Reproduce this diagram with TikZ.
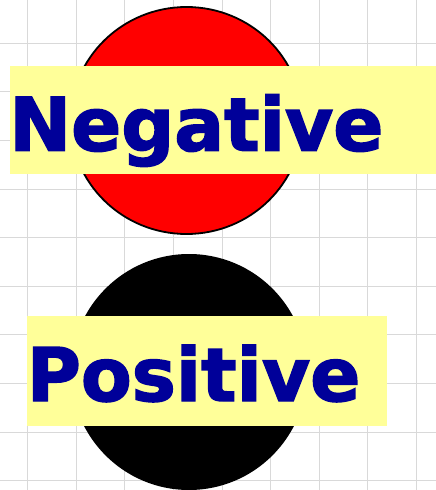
\documentclass[tikz,border=0pt]{standalone}
\usetikzlibrary{shapes.geometric}
\usepackage{fontspec}
\newfontfamily\labelfont{DejaVu Sans}[BoldFeatures={FakeBold=2}]
\definecolor{gridgray}{HTML}{D9D9D9}
\definecolor{boxyellow}{HTML}{FFFF99}
\definecolor{labelblue}{HTML}{000099}
\tikzset{
  gridline/.style={draw=gridgray, line width=1pt},
  labelbox/.style={fill=boxyellow, draw=none, inner sep=0pt, rectangle},
  labeltext/.style={anchor=base west, inner sep=0pt, text=labelblue, font=\labelfont\bfseries\fontsize{74}{80}\selectfont}
}
\begin{document}
\begin{tikzpicture}[x=1pt,y=-1pt]
\useasboundingbox (0,0) rectangle (436,490);
\fill[white] (0,0) rectangle (436,490);
\begin{scope}
\clip (0,0) rectangle (436,490);
\foreach \gx in {27.7,76.3,124.9,173.5,222.1,270.7,319.3,367.9,416.5}
  \draw[gridline] (\gx,0) -- (\gx,490);
\foreach \gy in {43.3,91.9,140.5,189.1,237.7,286.3,334.9,383.5,432.1,480.7}
  \draw[gridline] (0,\gy) -- (436,\gy);
\node[ellipse, fill=red, draw=black, line width=1.8pt, minimum width=232pt, minimum height=227pt, inner sep=0pt] (neg) at (186.5,120.5) {};
\node[circle, fill=black, draw=none, minimum size=236pt, inner sep=0pt] (pos) at (189,372) {};
\end{scope}
\node[labelbox, minimum width=426pt, minimum height=108.6pt] (negbox) at (223,120) {};
\node[labelbox, minimum width=359.4pt, minimum height=109.7pt] (posbox) at (207,370.85) {};
\node[labeltext] (negtext) at (9,150.7) {Negative};
\node[labeltext] (postext) at (26.5,401) {Positive};
\end{tikzpicture}
\end{document}
